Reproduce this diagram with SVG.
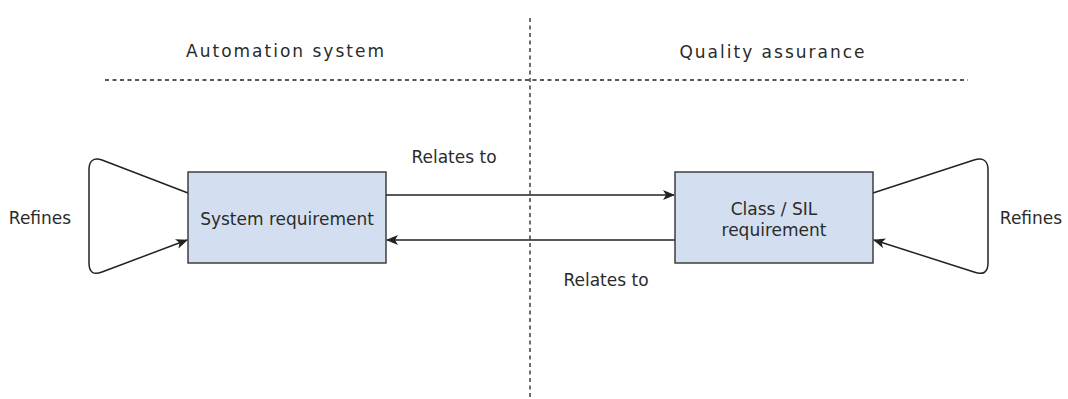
<svg xmlns="http://www.w3.org/2000/svg" width="1068" height="399" viewBox="0 0 1068 399">
  <style>
    .lbl { font-family: "DejaVu Sans", Verdana, sans-serif; font-size: 17px; fill: #2b2b2b; }
    .hdr { font-family: "DejaVu Sans", Verdana, sans-serif; font-size: 17px; fill: #2b2b2b; letter-spacing: 2px; }
    .box { fill: #d3dff0; stroke: #333333; stroke-width: 1.4; }
    .sep { stroke: #222222; stroke-width: 1.3; stroke-dasharray: 4 3.5; fill: none; }
    .edge { stroke: #222222; stroke-width: 1.5; fill: none; }
  </style>
  <defs>
    <marker id="arrow" viewBox="0 0 12 10" refX="11" refY="5" markerWidth="12" markerHeight="10" markerUnits="userSpaceOnUse" orient="auto">
      <path d="M0,0 L12,5 L0,10 L3,5 Z" fill="#222222"/>
    </marker>
  </defs>

  <rect width="1068" height="399" fill="#ffffff"/>

  <!-- swimlane separators and headings -->
  <g id="lanes">
    <line class="sep" x1="530" y1="18" x2="530" y2="399"/>
    <line class="sep" x1="105" y1="80" x2="968" y2="80"/>
    <text class="hdr" x="286" y="57" text-anchor="middle">Automation system</text>
    <text class="hdr" x="773" y="58" text-anchor="middle">Quality assurance</text>
  </g>

  <!-- connectors -->
  <g id="connectors">
    <line class="edge" x1="386" y1="195" x2="674" y2="195" marker-end="url(#arrow)"/>
    <line class="edge" x1="675" y1="240" x2="387" y2="240" marker-end="url(#arrow)"/>
    <path class="edge" d="M188,193 L102,160 Q89,156 89,170 L89,263 Q89,277 102,272 L187,240" marker-end="url(#arrow)"/>
    <path class="edge" d="M873,193 L974,160 Q988,156 988,170 L988,263 Q988,277 974,272 L874,240" marker-end="url(#arrow)"/>
    <text class="lbl" x="454" y="163" text-anchor="middle">Relates to</text>
    <text class="lbl" x="606" y="286" text-anchor="middle">Relates to</text>
    <text class="lbl" x="40" y="224" text-anchor="middle">Refines</text>
    <text class="lbl" x="1031" y="224" text-anchor="middle">Refines</text>
  </g>

  <g id="system-requirement">
    <rect class="box" x="188" y="172" width="198" height="91"/>
    <text class="lbl" x="287" y="225" text-anchor="middle">System requirement</text>
  </g>

  <g id="class-sil-requirement">
    <rect class="box" x="675" y="172" width="198" height="91"/>
    <text class="lbl" x="774" y="215" text-anchor="middle">Class / SIL</text>
    <text class="lbl" x="774" y="236" text-anchor="middle">requirement</text>
  </g>
</svg>
